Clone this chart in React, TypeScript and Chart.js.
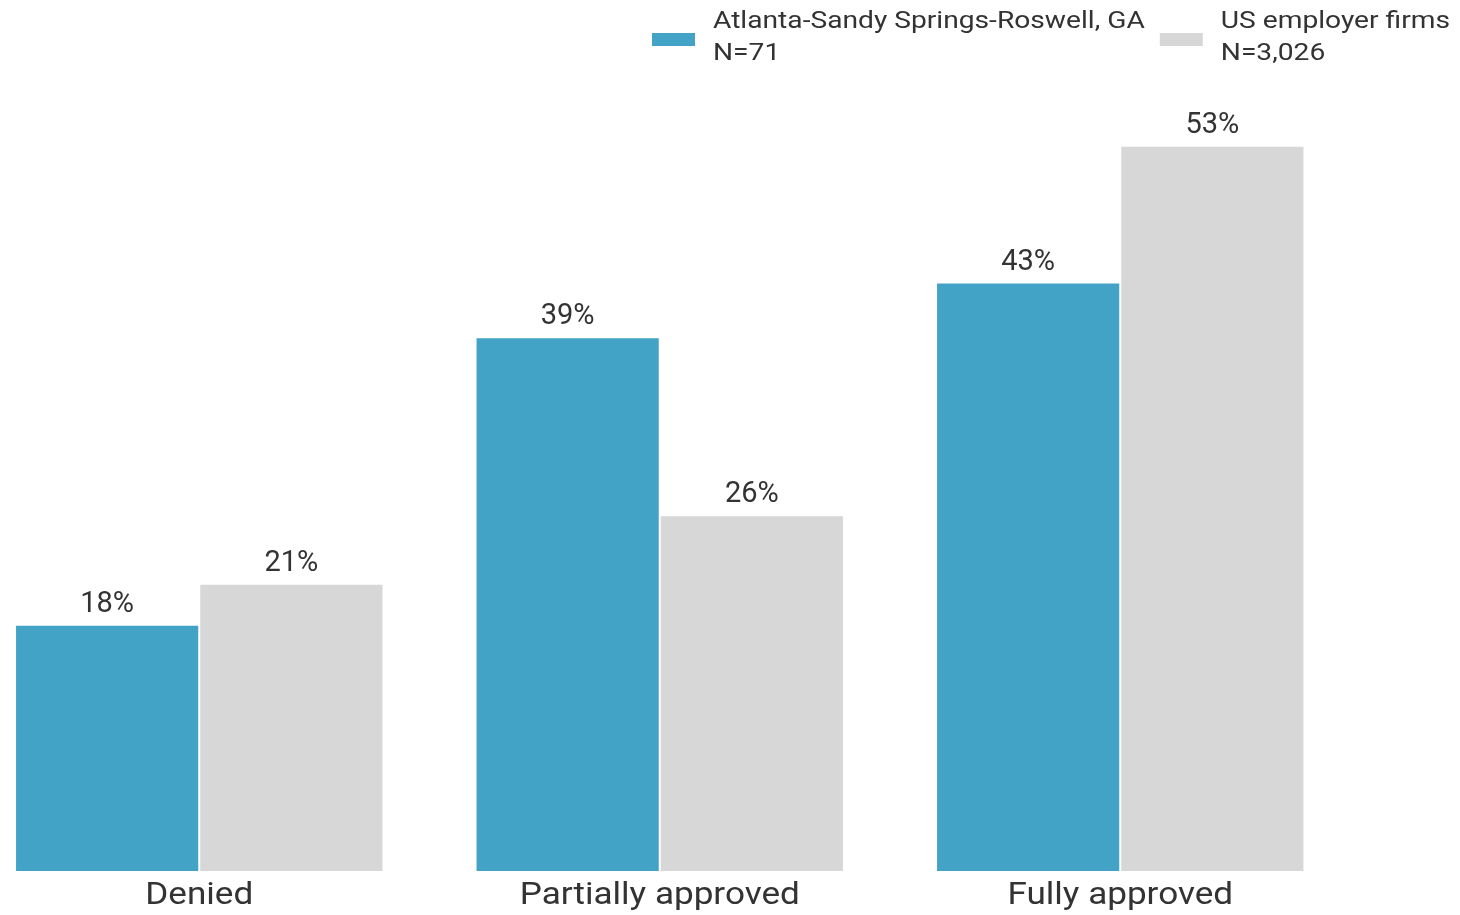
import React, { useEffect, useRef } from "react";
import { Chart, registerables } from "chart.js";

Chart.register(...registerables);

const categories = ["Denied", "Partially approved", "Fully approved"];
const atlantaValues = [18, 39, 43];
const usValues = [21, 26, 53];
const seriesNames = ["Atlanta-Sandy Springs-Roswell, GA", "US employer firms"];
const seriesNotes = ["N=71", "N=3,026"];
const seriesColors = ["#42A3C7", "#D7D7D7"];

const FONT = "Roboto, 'Noto Sans', sans-serif";
const TEXT = "#333333";
const STRETCH = 1.15;

function stretchedText(ctx: any, text: string, x: number, y: number, align: string) {
  const w = ctx.measureText(text).width * STRETCH;
  let left = x;
  if (align === "center") left = x - w / 2;
  else if (align === "right") left = x - w;
  ctx.save();
  ctx.translate(left, y);
  ctx.scale(STRETCH, 1);
  ctx.textAlign = "left";
  ctx.fillText(text, 0, 0);
  ctx.restore();
}

const valueLabels = {
  id: "valueLabels",
  afterDatasetsDraw(chart: any) {
    const ctx = chart.ctx;
    ctx.save();
    ctx.font = `29px ${FONT}`;
    ctx.fillStyle = TEXT;
    ctx.textAlign = "center";
    ctx.textBaseline = "alphabetic";
    chart.data.datasets.forEach((ds: any, i: number) => {
      const meta = chart.getDatasetMeta(i);
      meta.data.forEach((bar: any, j: number) => {
        ctx.fillText(`${ds.data[j]}%`, bar.x, bar.y - 13);
      });
    });
    ctx.restore();
  },
};

const categoryLabels = {
  id: "categoryLabels",
  afterDraw(chart: any) {
    const ctx = chart.ctx;
    const xs = chart.scales.x;
    ctx.save();
    ctx.font = `30.5px ${FONT}`;
    ctx.fillStyle = TEXT;
    ctx.textBaseline = "alphabetic";
    (chart.data.labels as string[]).forEach((lab, i) => {
      stretchedText(ctx, lab, xs.getPixelForValue(i), chart.chartArea.bottom + 33, "center");
    });
    ctx.restore();
  },
};

const customLegend = {
  id: "customLegend",
  afterDraw(chart: any) {
    const ctx = chart.ctx;
    ctx.save();
    ctx.font = `24.5px ${FONT}`;
    ctx.fillStyle = TEXT;
    ctx.textBaseline = "alphabetic";
    const boxW = 43;
    const boxH = 13;
    const boxGap = 18;
    const itemGap = 15;
    let right = chart.width - 10;
    const n = seriesNames.length;
    const positions: number[] = new Array(n);
    for (let i = n - 1; i >= 0; i--) {
      const w =
        Math.max(ctx.measureText(seriesNames[i]).width, ctx.measureText(seriesNotes[i]).width) * STRETCH;
      const textX = right - w;
      positions[i] = textX;
      right = textX - boxGap - boxW - itemGap;
    }
    for (let i = 0; i < n; i++) {
      const textX = positions[i];
      ctx.fillStyle = seriesColors[i];
      ctx.fillRect(textX - boxGap - boxW, 33, boxW, boxH);
      ctx.fillStyle = TEXT;
      stretchedText(ctx, seriesNames[i], textX, 27.5, "left");
      stretchedText(ctx, seriesNotes[i], textX, 60, "left");
    }
    ctx.restore();
  },
};

export default function App() {
  const ref = useRef<HTMLCanvasElement>(null);
  useEffect(() => {
    if (!ref.current) return;
    const chart = new Chart(ref.current, {
      type: "bar",
      data: {
        labels: categories,
        datasets: [
          {
            label: seriesNames[0],
            data: atlantaValues,
            backgroundColor: seriesColors[0],
            borderColor: "rgba(255,255,255,0.5)",
            borderWidth: 1,
            categoryPercentage: 0.8,
            barPercentage: 1.0,
          },
          {
            label: seriesNames[1],
            data: usValues,
            backgroundColor: seriesColors[1],
            borderColor: "rgba(255,255,255,0.5)",
            borderWidth: 1,
            categoryPercentage: 0.8,
            barPercentage: 1.0,
          },
        ],
      },
      options: {
        responsive: false,
        animation: false,
        layout: { padding: { top: 50, right: 109.5, left: 0, bottom: 0 } },
        plugins: {
          legend: { display: false },
          tooltip: { enabled: false },
        },
        scales: {
          x: {
            grid: { display: false, drawTicks: false },
            border: { display: false },
            ticks: { display: false },
            afterFit: (scale: any) => {
              scale.height = 44;
            },
          },
          y: {
            display: false,
            min: 0,
            max: 60,
          },
        },
      },
      plugins: [valueLabels, categoryLabels, customLegend],
    });
    return () => chart.destroy();
  }, []);
  return (
    <div style={{ position: "fixed", left: -31, top: 0, width: 1491, height: 915, background: "#fff" }}>
      <canvas ref={ref} width={1491} height={915} style={{ display: "block" }} />
    </div>
  );
}
